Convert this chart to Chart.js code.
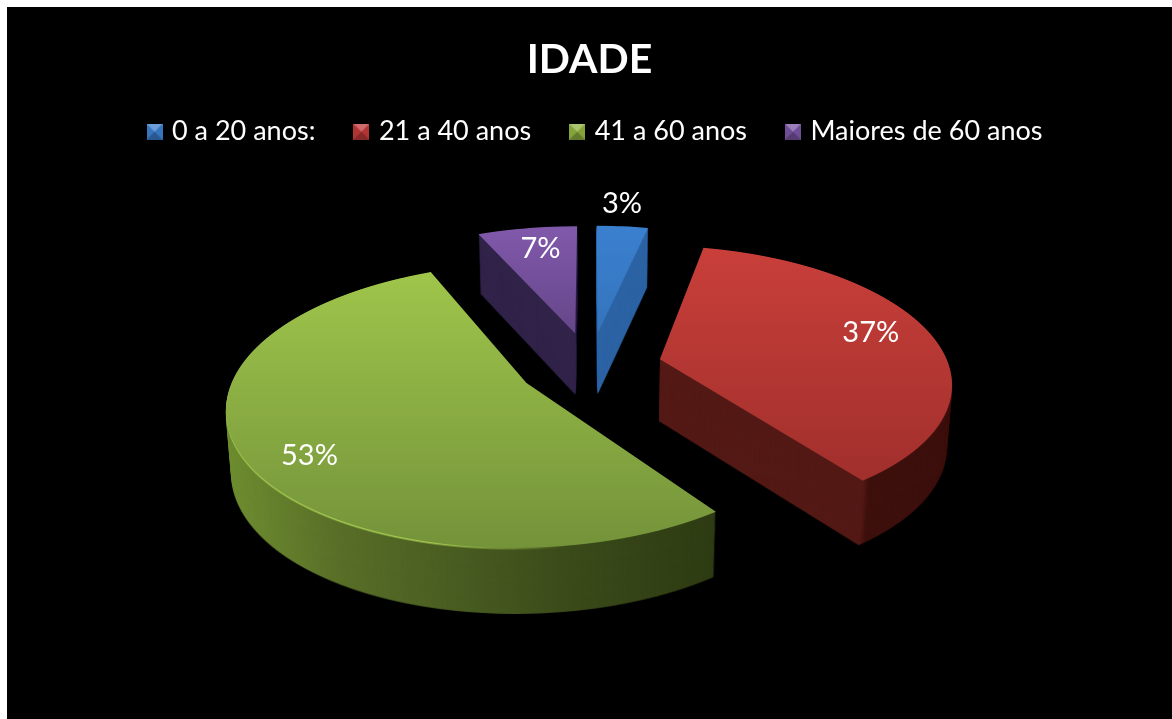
<!DOCTYPE html>
<html>
<head>
<meta charset="utf-8">
<style>
  html, body { margin: 0; background: #fff; overflow: hidden; }
  canvas { position: absolute; left: 7px; top: 7px; background: #000; }
</style>
<script src="https://cdn.jsdelivr.net/npm/chart.js@4/dist/chart.umd.min.js"></script>
</head>
<body>
<canvas id="myChart" width="1165" height="712"></canvas>
<script>
const chartTitle = 'IDADE';
const categories = ['0 a 20 anos:', '21 a 40 anos', '41 a 60 anos', 'Maiores de 60 anos'];
const shares = [3.4, 36.6, 53.4, 6.6];
const shareLabels = ['3%', '37%', '53%', '7%'];

// how far along its radius each % label sits (the 3% one is outside the slice), then a small nudge
const labelReach = [1.17, 0.72, 0.74, 0.67];
const labelNudge = [[-4, -7], [15, -8], [-12, 18], [-1, -11]];

const baseColors = ['#3b7fcc', '#c0393a', '#8fb140', '#7a55a3'];
const faceColors = [['#3a80cf', '#3574bd'], ['#c93f3a', '#a12f2c'], ['#9fc54b', '#74933a'], ['#8159ab', '#654689']];
const faceSpans = [[219, 323], [240, 473], [265, 541], [219, 328]];
const wallStops = [
    [[0, '#2d64a5'], [1, '#2d64a5']],
    [[0, '#561b17'], [0.735, '#541a16'], [0.74, '#3f110e'], [1, '#3a0f0d']],
    [[0.19, '#6f8e32'], [0.28, '#5a7029'], [0.38, '#4a5e22'], [0.48, '#3c4c1b'], [0.61, '#2f3c14']],
    [[0, '#32244a'], [1, '#32244a']]
];

// 3d look of the pie, all in canvas pixels
const pieX = 583;
const pieY = 359;
const pieRadius = 289;
const explode = [75, 72, 72, 75];
const tilt = 0.4615;
const perspective = 0.000541;
const wallDepth = 62;
const legendShift = 7;

function bevelMark(color) {
    const mark = document.createElement('canvas');
    mark.width = mark.height = 16;
    const c = mark.getContext('2d');
    c.fillStyle = color;
    c.fillRect(0, 0, 16, 16);
    const sides = [[0, 0, 16, 0, 'rgba(255,255,255,0.25)'], [16, 16, 0, 16, 'rgba(0,0,0,0.3)'], [0, 16, 0, 0, 'rgba(0,0,0,0.08)'], [16, 0, 16, 16, 'rgba(0,0,0,0.08)']];
    sides.forEach((s) => {
        c.fillStyle = s[4];
        c.beginPath();
        c.moveTo(s[0], s[1]);
        c.lineTo(s[2], s[3]);
        c.lineTo(8, 8);
        c.fill();
    });
    return mark;
}
const legendMarks = baseColors.map(bevelMark);

function newLayer(w, h) {
    const layer = document.createElement('canvas');
    layer.width = w;
    layer.height = h;
    return layer;
}

// circle -> ellipse under perspective: one row of pixels at a time, each row with its own scale
function paintSlice(layer, arc, pushOut, fill) {
    const c = layer.getContext('2d');
    const k = pieRadius / arc.outerRadius;
    const half = (arc.startAngle + arc.endAngle) / 2;
    const shim = Object.create(arc);
    shim.options = {...arc.options, offset: 0, backgroundColor: '#fff'};
    shim.x = arc.x + Math.cos(half) * pushOut / k;
    shim.y = arc.y + Math.sin(half) * pushOut / k;
    for (let y = 0; y < layer.height; y++) {
        const row = y + 0.5 - pieY;
        const depth = row / (tilt + perspective * row);
        const grow = 1 / (1 - perspective * depth);
        if (grow <= 0) continue;
        const kx = k * grow;
        const ky = k * tilt * grow * grow;
        c.save();
        c.beginPath();
        c.rect(0, y, layer.width, 1);
        c.clip();
        c.setTransform(kx, 0, 0, ky, pieX - arc.x * kx, pieY + row - (arc.y + depth / k) * ky);
        shim.draw(c);
        c.restore();
    }
    c.setTransform(1, 0, 0, 1, 0, 0);
    c.globalCompositeOperation = 'source-in';
    c.fillStyle = fill;
    c.fillRect(0, 0, layer.width, layer.height);
    c.globalCompositeOperation = 'source-over';
}

function projectPoint(arc, pushOut, reach) {
    const half = (arc.startAngle + arc.endAngle) / 2;
    const px = Math.cos(half) * (pushOut + reach * pieRadius);
    const py = Math.sin(half) * (pushOut + reach * pieRadius);
    const w = 1 - perspective * py;
    return {x: pieX + px / w, y: pieY + tilt * py / w};
}

const tiltedPie = {
    id: 'tiltedPie',
    afterLayout(chart) {
        // legend in the reference sits a bit right of the title
        chart.legend.left += legendShift;
        chart.legend.right += legendShift;
    },
    beforeDatasetsDraw(chart) {
        const ctx = chart.ctx;
        const W = chart.width;
        const H = chart.height;
        const arcs = chart.getDatasetMeta(0).data;
        arcs.forEach((arc, i) => {
            const wall = newLayer(W, H);
            const wallFill = ctx.createLinearGradient(0, 0, W, 0);
            wallStops[i].forEach((s) => wallFill.addColorStop(s[0], s[1]));
            paintSlice(wall, arc, explode[i], wallFill);
            for (let d = wallDepth; d > 0; d--) {
                const t = d / wallDepth;
                const sy = 0.0217 * t;
                ctx.drawImage(wall, pieX * 0.015 * t, wallDepth * t - pieY * sy, W * (1 - 0.015 * t), H * (1 + sy));
            }
            if (i === 2) {
                // thin light rim along the front left of the green slice
                const rim = newLayer(W, H);
                const rimFill = ctx.createLinearGradient(220, 0, 560, 0);
                rimFill.addColorStop(0, '#a6cc52');
                rimFill.addColorStop(0.6, '#a6cc52');
                rimFill.addColorStop(1, 'rgba(166,204,82,0)');
                paintSlice(rim, arc, explode[i], rimFill);
                ctx.drawImage(rim, 0, 1.5);
            }
            const face = newLayer(W, H);
            const faceFill = ctx.createLinearGradient(0, faceSpans[i][0], 0, faceSpans[i][1]);
            faceFill.addColorStop(0, faceColors[i][0]);
            faceFill.addColorStop(1, faceColors[i][1]);
            paintSlice(face, arc, explode[i], faceFill);
            ctx.drawImage(face, 0, 0);
        });
        return false;
    },
    // the dataset hook above cancels the normal draw, so the labels go here
    afterDraw(chart) {
        const ctx = chart.ctx;
        ctx.save();
        ctx.fillStyle = '#fff';
        ctx.font = '29px Lato';
        ctx.textAlign = 'center';
        ctx.textBaseline = 'middle';
        chart.getDatasetMeta(0).data.forEach((arc, i) => {
            const p = projectPoint(arc, explode[i], labelReach[i]);
            ctx.fillText(shareLabels[i], p.x + labelNudge[i][0], p.y + labelNudge[i][1]);
        });
        ctx.restore();
    }
};

new Chart(document.getElementById('myChart'), {
    type: 'pie',
    data: {
        labels: categories,
        datasets: [{data: shares, backgroundColor: baseColors, borderWidth: 0}]
    },
    options: {
        responsive: false,
        animation: false,
        plugins: {
            tooltip: {enabled: false},
            title: {
                display: true,
                text: chartTitle,
                color: '#fff',
                font: {family: 'Lato', size: 41, weight: 'bold'},
                padding: {top: 28, bottom: -8}
            },
            legend: {
                position: 'top',
                onClick: null,
                labels: {
                    color: '#fff',
                    font: {family: 'Lato', size: 27},
                    usePointStyle: true,
                    boxWidth: 8,
                    padding: 42,
                    generateLabels(chart) {
                        return Chart.overrides.pie.plugins.legend.labels.generateLabels(chart).map((item, i) => {
                            item.pointStyle = legendMarks[i];
                            return item;
                        });
                    }
                }
            }
        }
    },
    plugins: [tiltedPie]
});
</script>
</body>
</html>
